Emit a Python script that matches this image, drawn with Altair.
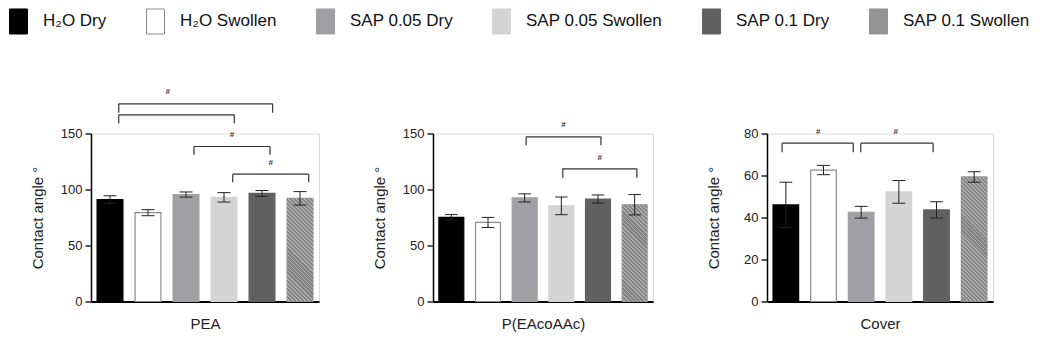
import altair as alt
import pandas as pd

# ---------------- data ----------------
groups = ["H₂O Dry", "H₂O Swollen", "SAP 0.05 Dry", "SAP 0.05 Swollen", "SAP 0.1 Dry", "SAP 0.1 Swollen"]
positions = [0, 1, 2, 3, 4, 5]
fill_colors = ["#000000", "#ffffff", "#a0a0a4", "#d4d4d4", "#606060", "#949494"]
stroke_colors = ["#000000", "#8c8c8c", "#a0a0a4", "#d4d4d4", "#606060", "#949494"]

panel_titles = ["PEA", "P(EAcoAAc)", "Cover"]
y_title = "Contact angle °"

pea_mean = [91.0, 79.3, 95.5, 93.0, 96.5, 92.1]
pea_sd = [3.4, 2.7, 2.3, 4.2, 2.6, 6.0]
peaaac_mean = [75.2, 70.6, 92.5, 85.4, 91.5, 86.4]
peaaac_sd = [2.4, 4.5, 3.6, 7.9, 3.6, 9.1]
cover_mean = [46.0, 62.6, 42.5, 52.2, 43.6, 59.3]
cover_sd = [10.8, 2.2, 2.8, 5.4, 3.9, 2.5]

pea_yticks = [0, 50, 100, 150]
peaaac_yticks = [0, 50, 100, 150]
cover_yticks = [0, 20, 40, 60, 80]

# significance brackets (bar-position units / data units)
pea_br_start = [0.23, 0.23, 2.21, 3.23]
pea_br_end = [4.28, 3.27, 4.21, 5.23]
pea_br_top = [176.5, 166.7, 138.4, 113.7]
pea_br_leg = [168.5, 158.9, 131.0, 106.5]
pea_sig_x = [1.52, 3.21, 4.23]
pea_sig_y = [187.0, 148.8, 123.5]
pea_sig_label = ["#", "#", "#"]

peaaac_br_start = [2.04, 3.04]
peaaac_br_end = [4.08, 5.06]
peaaac_br_top = [147.0, 118.5]
peaaac_br_leg = [139.5, 110.4]
peaaac_sig_x = [3.06, 4.05]
peaaac_sig_y = [157.3, 128.5]
peaaac_sig_label = ["#", "#"]

cover_br_start = [-0.1, 1.99]
cover_br_end = [1.79, 3.91]
cover_br_top = [75.4, 75.4]
cover_br_leg = [71.1, 71.1]
cover_sig_x = [0.86, 2.92]
cover_sig_y = [80.5, 80.5]
cover_sig_label = ["#", "#"]

# ---------------- style ----------------
FONT = "Liberation Sans"
H = 168
WIDTHS = [228, 220, 226]
YMAX = [150, 150, 80]
BAR_HALF = 0.34
CAP_HALF = 0.17
ERR_COLOR = "#222222"
BR_COLOR = "#333333"
HATCH_DARK = "#858585"
HATCH_LIGHT = "#aaaaaa"

LEGEND = alt.Legend(
    title=None, orient="none", legendX=-82, legendY=-122, direction="horizontal",
    symbolType="M-1,-1.39H1V1.39H-1Z", symbolSize=324, symbolStrokeWidth=1,
    labelFontSize=17, labelFont=FONT, labelColor="#111111", labelOffset=15,
    columnPadding=37,
)


def hatch_gradient(w, h, period=4.0, light_frac=0.45):
    k = (w + h) / (w * w + h * h)
    n = max(1, int(round((w + h) / period)))
    stops = []
    for i in range(n):
        a = i / n
        b = (i + 1 - light_frac) / n
        c = (i + 1) / n
        stops += [
            {"offset": a, "color": HATCH_DARK},
            {"offset": b, "color": HATCH_DARK},
            {"offset": b, "color": HATCH_LIGHT},
            {"offset": c, "color": HATCH_LIGHT},
        ]
    return {"gradient": "linear", "x1": 0, "y1": 1, "x2": k * w, "y2": 1 - k * h, "stops": stops}


def make_panel(title, means, sds, ymax, yticks, width, br_start, br_end, br_top, br_leg,
               sig_x, sig_y, sig_label):
    bars = pd.DataFrame({"pos": positions, "group": groups, "mean": means, "sd": sds})
    brackets = pd.DataFrame({"s": br_start, "e": br_end, "top": br_top, "leg": br_leg})
    sigs = pd.DataFrame({"x": sig_x, "y": sig_y, "t": sig_label})

    xs = alt.Scale(domain=[-0.5, 5.5], nice=False, zero=False)
    ys = alt.Scale(domain=[0, ymax], nice=False, zero=True)
    xaxis = alt.Axis(title=title, labels=False, ticks=False, grid=False, domainWidth=2,
                     domainColor="#000000", titlePadding=15, titleFontSize=15,
                     titleFontWeight="normal", titleColor="#222222", titleFont=FONT)
    yaxis = alt.Axis(title=y_title, values=yticks, grid=False, tickSize=6, tickWidth=1.3,
                     tickColor="#000000", domainWidth=1.5, domainColor="#000000",
                     labelFontSize=13, labelFont=FONT, labelColor="#222222", labelPadding=3,
                     titleFontSize=15, titleFont=FONT, titleFontWeight="normal",
                     titleColor="#222222", titleX=-46, titleY=H / 2)

    def X(f):
        return alt.X(f, type="quantitative", scale=xs, axis=xaxis)

    def Y(f):
        return alt.Y(f, type="quantitative", scale=ys, axis=yaxis)

    base = alt.Chart(bars).transform_calculate(
        x0=f"datum.pos - {BAR_HALF}", x1=f"datum.pos + {BAR_HALF}",
        c0=f"datum.pos - {CAP_HALF}", c1=f"datum.pos + {CAP_HALF}",
        lo="datum.mean - datum.sd", hi="datum.mean + datum.sd",
    )

    bar_layer = base.mark_bar(strokeWidth=1.2).encode(
        x=X("x0"), x2="x1", y=Y("mean"), y2=alt.datum(0),
        color=alt.Color("group:N", scale=alt.Scale(domain=groups, range=fill_colors), legend=LEGEND),
        stroke=alt.Stroke("group:N", scale=alt.Scale(domain=groups, range=stroke_colors), legend=LEGEND),
    )

    bw = 2 * BAR_HALF * width / 6.0
    hh = means[5] / ymax * H
    hatch_layer = base.transform_filter("datum.pos == 5").mark_bar(
        fill=hatch_gradient(bw, hh)
    ).encode(x=X("x0"), x2="x1", y=Y("mean"), y2=alt.datum(0))

    err_v = base.mark_rule(color=ERR_COLOR, strokeWidth=1).encode(x=X("pos"), y=Y("lo"), y2="hi")
    err_t = base.mark_rule(color=ERR_COLOR, strokeWidth=1).encode(x=X("c0"), x2="c1", y=Y("hi"))
    err_b = base.mark_rule(color=ERR_COLOR, strokeWidth=1).encode(x=X("c0"), x2="c1", y=Y("lo"))

    br = alt.Chart(brackets)
    br_h = br.mark_rule(color=BR_COLOR, strokeWidth=1.2).encode(x=X("s"), x2="e", y=Y("top"))
    br_l = br.mark_rule(color=BR_COLOR, strokeWidth=1.2).encode(x=X("s"), y=Y("leg"), y2="top")
    br_r = br.mark_rule(color=BR_COLOR, strokeWidth=1.2).encode(x=X("e"), y=Y("leg"), y2="top")

    sig = alt.Chart(sigs).mark_text(fontSize=8, fontWeight="bold", color="#333333",
                                    baseline="middle", font=FONT).encode(
        x=X("x"), y=Y("y"), text="t:N")

    return alt.layer(bar_layer, hatch_layer, err_v, err_t, err_b, br_h, br_l, br_r, sig).properties(
        width=width, height=H)


p1 = make_panel(panel_titles[0], pea_mean, pea_sd, YMAX[0], pea_yticks, WIDTHS[0],
                pea_br_start, pea_br_end, pea_br_top, pea_br_leg, pea_sig_x, pea_sig_y, pea_sig_label)
p2 = make_panel(panel_titles[1], peaaac_mean, peaaac_sd, YMAX[1], peaaac_yticks, WIDTHS[1],
                peaaac_br_start, peaaac_br_end, peaaac_br_top, peaaac_br_leg, peaaac_sig_x,
                peaaac_sig_y, peaaac_sig_label)
p3 = make_panel(panel_titles[2], cover_mean, cover_sd, YMAX[2], cover_yticks, WIDTHS[2],
                cover_br_start, cover_br_end, cover_br_top, cover_br_leg, cover_sig_x,
                cover_sig_y, cover_sig_label)

chart = alt.hconcat(p1, p2, p3, spacing=51).resolve_scale(
    color="shared", stroke="shared"
).resolve_legend(color="shared", stroke="shared").properties(
    padding={"left": 1, "top": 3.5, "right": 5, "bottom": 5}
).configure_view(strokeWidth=0, stroke="transparent").configure(font=FONT)

chart.save("out.html", embed_options={"renderer": "svg", "actions": False})
